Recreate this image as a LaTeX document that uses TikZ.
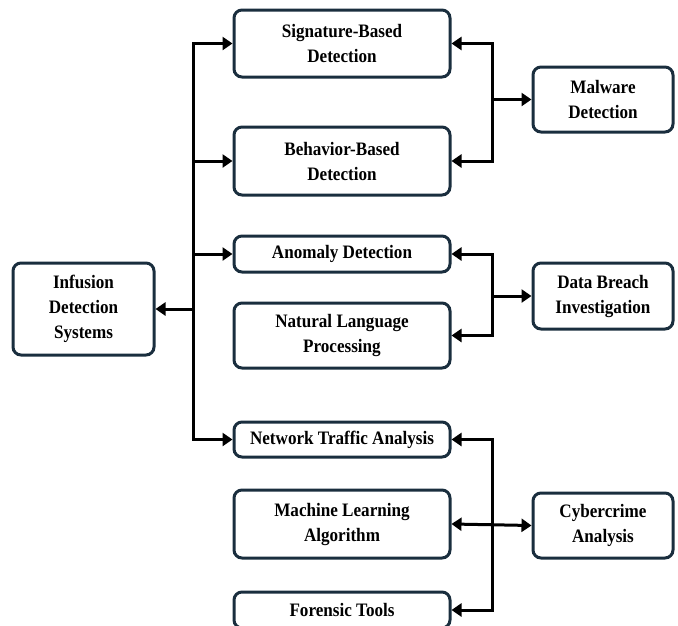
\documentclass[tikz,border=0pt]{standalone}
\usepackage{fontspec}
\newfontfamily\boxfont{Liberation Serif}[FakeStretch=0.9]
\usetikzlibrary{arrows.meta}
\definecolor{boxline}{HTML}{1A2E3E}
\tikzset{
  box/.style={draw=boxline,line width=3pt,rounded corners=8pt,fill=white,
    align=center,inner sep=0pt,
    font=\boxfont\bfseries\fontsize{19}{25}\selectfont},
  conn/.style={line width=3pt,>={Triangle[length=10pt,width=13pt]}}
}
\begin{document}
\begin{tikzpicture}[x=1pt,y=-1pt]
\useasboundingbox (0,0) rectangle (678,625);
% middle column
\node[box,minimum width=216pt,minimum height=67pt] (sig) at (342,43.5) {Signature-Based\\Detection};
\node[box,minimum width=216pt,minimum height=68pt] (beh) at (342,161) {Behavior-Based\\Detection};
\node[box,minimum width=216pt,minimum height=36pt] (ano) at (342,254) {Anomaly Detection};
\node[box,minimum width=216pt,minimum height=65pt] (nlp) at (342,335.5) {Natural Language\\Processing};
\node[box,minimum width=216pt,minimum height=35pt] (net) at (342,439.5) {Network Traffic Analysis};
\node[box,minimum width=216pt,minimum height=68pt] (mla) at (342,524) {Machine Learning\\Algorithm};
\node[box,minimum width=216pt,minimum height=36pt] (for) at (342,610) {Forensic Tools};
% left and right
\node[box,minimum width=141pt,minimum height=92pt] (ids) at (83.5,309) {Infusion\\Detection\\Systems};
\node[box,minimum width=140pt,minimum height=65pt] (mal) at (603,99.5) {Malware\\Detection};
\node[box,minimum width=140pt,minimum height=66pt] (dbi) at (603,296) {Data Breach\\Investigation};
\node[box,minimum width=140pt,minimum height=65pt] (cca) at (603,525.5) {Cybercrime\\Analysis};
\coordinate (trunk) at (193,0);
\coordinate (rbus) at (492,0);
% left trunk
\draw[conn,<->] (sig.west) -- (sig.west -| trunk) -- (net.west -| trunk) -- (net.west);
\draw[conn,->] (beh.west -| trunk) -- (beh.west);
\draw[conn,->] (ano.west -| trunk) -- (ano.west);
\draw[conn,->] (ids.east -| trunk) -- (ids.east);
% right side
\draw[conn,<->] (sig.east) -- (sig.east -| rbus) -- (beh.east -| rbus) -- (beh.east);
\draw[conn,->] (mal.west -| rbus) -- (mal.west);
\draw[conn,<->] (ano.east) -- (ano.east -| rbus) -- (nlp.east -| rbus) -- (nlp.east);
\draw[conn,->] (dbi.west -| rbus) -- (dbi.west);
\draw[conn,<->] (net.east) -- (net.east -| rbus) -- (for.east -| rbus) -- (for.east);
\draw[conn,<->] (mla.east) -- (cca.west);
\end{tikzpicture}
\end{document}
